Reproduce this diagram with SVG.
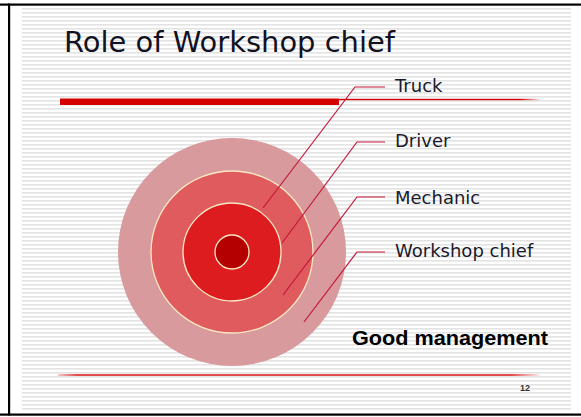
<svg xmlns="http://www.w3.org/2000/svg" width="581" height="417" viewBox="0 0 581 417">
  <defs>
    <pattern id="stripes" x="0" y="0" width="8" height="4" patternUnits="userSpaceOnUse">
      <rect x="0" y="0" width="8" height="4" fill="#ffffff"/>
      <rect x="0" y="0" width="8" height="1.6" fill="#e3e3e3"/>
    </pattern>
    <linearGradient id="fadeR" x1="0" y1="0" x2="1" y2="0">
      <stop offset="0" stop-color="#d40000"/>
      <stop offset="0.9" stop-color="#d40000"/>
      <stop offset="1" stop-color="#d40000" stop-opacity="0.1"/>
    </linearGradient>
    <linearGradient id="fadeB" x1="0" y1="0" x2="1" y2="0">
      <stop offset="0" stop-color="#d40000" stop-opacity="0.3"/>
      <stop offset="0.04" stop-color="#d40000"/>
      <stop offset="0.94" stop-color="#d40000"/>
      <stop offset="1" stop-color="#d40000" stop-opacity="0.1"/>
    </linearGradient>
  </defs>
  <style>
    .lbl { font-family: "DejaVu Sans", "Liberation Sans", sans-serif; font-size: 18px; fill: #1a1a2a; }
    .conn { fill: none; stroke: #c4173a; stroke-width: 1.2; }
    .ring { stroke: #f7e8c4; stroke-width: 1.3; }
  </style>

  <rect x="0" y="0" width="581" height="417" fill="#ffffff"/>
  <rect x="22" y="6" width="549" height="406" fill="url(#stripes)"/>

  <!-- frame -->
  <rect x="0" y="3.5" width="581" height="2.2" fill="#000000"/>
  <rect x="8" y="3.5" width="2.2" height="412" fill="#000000"/>
  <rect x="0" y="413.5" width="581" height="2.2" fill="#000000"/>

  <!-- title -->
  <g id="title">
    <text x="64" y="52" font-family="DejaVu Sans, Liberation Sans, sans-serif" font-size="29" fill="#111122" textLength="331" lengthAdjust="spacingAndGlyphs">Role of Workshop chief</text>
    <rect x="60" y="98.5" width="279" height="6.5" fill="#d40000"/>
    <rect x="339" y="98.8" width="201" height="1.4" fill="url(#fadeR)"/>
  </g>

  <!-- target circles -->
  <g id="workshop-chief-ring">
    <circle cx="232" cy="252" r="114" fill="#d89a9d"/>
  </g>
  <g id="mechanic-ring">
    <circle class="ring" cx="232" cy="252" r="81" fill="#df5b5e"/>
  </g>
  <g id="driver-ring">
    <circle class="ring" cx="232" cy="252" r="49" fill="#dc1c1f"/>
  </g>
  <g id="truck-core">
    <circle class="ring" cx="232" cy="252" r="17" fill="#b50000"/>
  </g>

  <!-- connectors -->
  <g id="connectors">
    <polyline class="conn" points="385,87 355,87 263,208"/>
    <polyline class="conn" points="385,142 357,142 282,243"/>
    <polyline class="conn" points="385,197 357,197 283,295"/>
    <polyline class="conn" points="385,252 357,252 304,322"/>
  </g>

  <!-- labels -->
  <g id="label-truck"><text class="lbl" x="395" y="92">Truck</text></g>
  <g id="label-driver"><text class="lbl" x="395" y="147">Driver</text></g>
  <g id="label-mechanic"><text class="lbl" x="395" y="204">Mechanic</text></g>
  <g id="label-workshop-chief"><text class="lbl" x="395" y="257">Workshop chief</text></g>

  <g id="good-management">
    <text x="352" y="345" font-family="Liberation Sans, Arial, sans-serif" font-weight="bold" font-size="20" fill="#000000" textLength="196" lengthAdjust="spacingAndGlyphs">Good management</text>
  </g>

  <!-- footer -->
  <rect x="58" y="374.3" width="482" height="1.4" fill="url(#fadeB)"/>
  <text x="520" y="391" font-family="Liberation Sans, Arial, sans-serif" font-weight="bold" font-size="9" fill="#333333">12</text>
</svg>
